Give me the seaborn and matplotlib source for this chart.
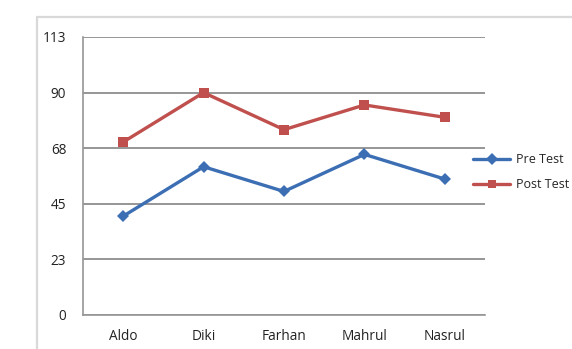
import matplotlib
matplotlib.use("Agg")
import matplotlib.pyplot as plt
from matplotlib.lines import Line2D
import seaborn as sns
import pandas as pd

students = ["Aldo", "Diki", "Farhan", "Mahrul", "Nasrul"]
pre_test = [40, 60, 50, 65, 55]
post_test = [70, 90, 75, 85, 80]
y_ticks = [0, 22.5, 45, 67.5, 90, 112.5]
y_tick_labels = ["0", "23", "45", "68", "90", "113"]
series_names = ["Pre Test", "Post Test"]

df = pd.DataFrame({
    "student": students * 2,
    "pos": list(range(len(students))) * 2,
    "score": pre_test + post_test,
    "series": [series_names[0]] * len(students) + [series_names[1]] * len(students),
})

sns.set_theme(style="white")
plt.rcParams["font.family"] = ["Open Sans", "DejaVu Sans"]

W, H = 572, 349
fig = plt.figure(figsize=(W / 100, H / 100), dpi=100)
fig.patch.set_linewidth(0)
ax = fig.add_axes([83 / W, 1 - 315 / H, (485 - 83) / W, (315 - 37) / H])

colors = {"Pre Test": "#3c6eb4", "Post Test": "#c0504d"}
markers = {"Pre Test": "D", "Post Test": "s"}
label_size = 9.8

sns.lineplot(data=df, x="pos", y="score", hue="series", style="series",
             palette=colors, markers=markers, dashes=False, linewidth=2.4,
             markersize=6.5, markeredgewidth=0, ax=ax, legend=False, zorder=3)

ax.set_xlim(-0.5, len(students) - 0.5)
ax.set_ylim(0, 112.5)
ax.set_yticks(y_ticks)
ax.set_yticklabels(y_tick_labels)
ax.set_xticks(range(len(students)))
ax.set_xticklabels(students)
ax.set_xlabel("")
ax.set_ylabel("")

ax.grid(axis="y", color="#969696", linewidth=1.4)
ax.set_axisbelow(True)
for side in ["top", "right"]:
    ax.spines[side].set_visible(False)
for side in ["left", "bottom"]:
    ax.spines[side].set_color("#969696")
    ax.spines[side].set_linewidth(1.2)

ax.tick_params(axis="y", length=4, color="#969696", width=1, labelsize=label_size,
               labelcolor="#222222", pad=8)
ax.tick_params(axis="x", length=0, labelsize=label_size, labelcolor="#222222", pad=10)

# minor x ticks at category boundaries
ax.set_xticks([i + 0.5 for i in range(-1, len(students))], minor=True)
ax.tick_params(axis="x", which="minor", length=4, color="#969696", width=1)

# chart area border (left and top edges)
border = dict(color="#d9d9d9", linewidth=1.6, transform=fig.transFigure, zorder=0)
fig.add_artist(Line2D([37 / W, 37 / W], [0, 1 - 17 / H], **border))
fig.add_artist(Line2D([37 / W, 1.0], [1 - 17 / H, 1 - 17 / H], **border))

handles = [Line2D([], [], color=colors[s], marker=markers[s], markersize=6,
                  markeredgewidth=0, linewidth=2.4) for s in series_names]
fig.legend(handles, series_names, loc="upper left",
           bbox_to_anchor=(473 / W, 1 - 153 / H), frameon=False,
           fontsize=9.0, handlelength=3.0, handletextpad=0.4,
           labelspacing=1.0, borderaxespad=0, borderpad=0)

fig.savefig("out.png", dpi=100)
